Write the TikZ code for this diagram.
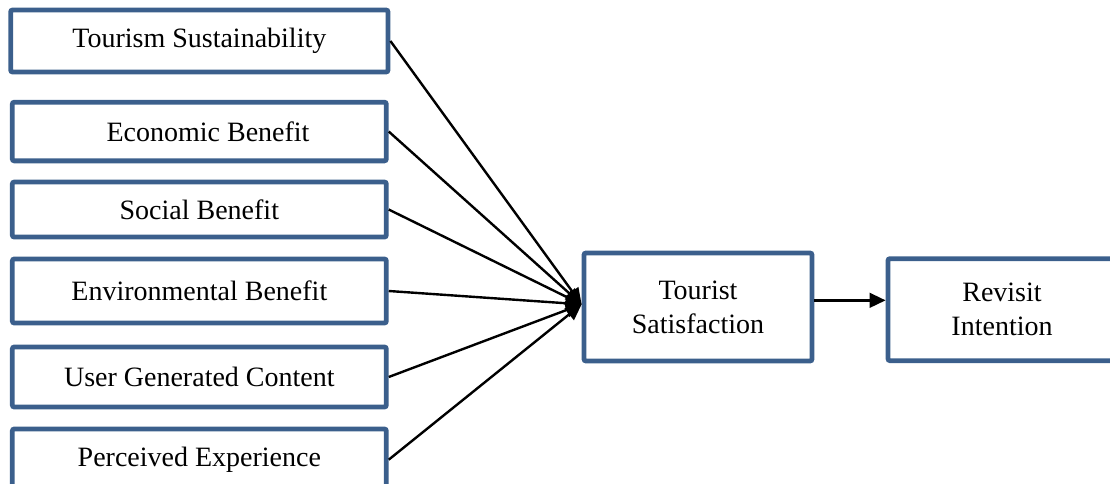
\documentclass[tikz,border=0pt]{standalone}
\usepackage{fontspec}
\setmainfont{Liberation Serif}
\usetikzlibrary{positioning,arrows.meta}
\definecolor{boxblue}{RGB}{59,95,140}

\begin{document}
\begin{tikzpicture}[>={Triangle[length=12pt,width=11pt]},on grid,
  factor/.style={draw=boxblue,line width=3.6pt,rounded corners=1.5pt,
    minimum width=280.5pt,minimum height=44pt,inner sep=0pt,
    font=\fontsize{21}{25.5}\selectfont},
  outcome/.style={factor,minimum width=171pt,align=center},
  link/.style={line width=1.8pt}]
  \useasboundingbox (0,0) rectangle (832.5pt,-363pt);
  % left column
  \node[factor,minimum width=283pt,minimum height=46.5pt] (ts) at (149.5pt,-30.75pt) {Tourism Sustainability};
  \node[factor] (eb) [below=67.9pt of ts] {\hspace*{13pt}Economic Benefit};
  \node[factor,minimum height=41.25pt] (sb) [below=58.5pt of eb] {Social Benefit};
  \node[factor,minimum height=48pt] (env) [below=61.1pt of sb] {Environmental Benefit};
  \node[factor,minimum height=45pt] (ugc) [below=64.5pt of env] {User Generated Content};
  \node[factor,minimum height=46pt] (pe) [below=62pt of ugc] {Perceived Experience};
  % outcomes
  \node[outcome,minimum height=81pt] (tsat) at (523.5pt,-230.25pt) {Tourist\\Satisfaction};
  \node[outcome,minimum height=76.5pt] (ri) [right=228pt of tsat,yshift=-2pt] {Revisit\\Intention};
  \coordinate (mid) at ([yshift=5pt]tsat.east);
  \path[->,link]
    (ts.east) edge ([yshift=2pt]tsat.west)
    (eb.east) edge ([yshift=2pt]tsat.west)
    (sb.east) edge ([yshift=2pt]tsat.west)
    (env.east) edge ([yshift=2pt]tsat.west)
    (ugc.east) edge ([yshift=2pt]tsat.west)
    (pe.east) edge ([yshift=2pt]tsat.west)
    (mid) edge (mid -| ri.west);
\end{tikzpicture}
\end{document}
